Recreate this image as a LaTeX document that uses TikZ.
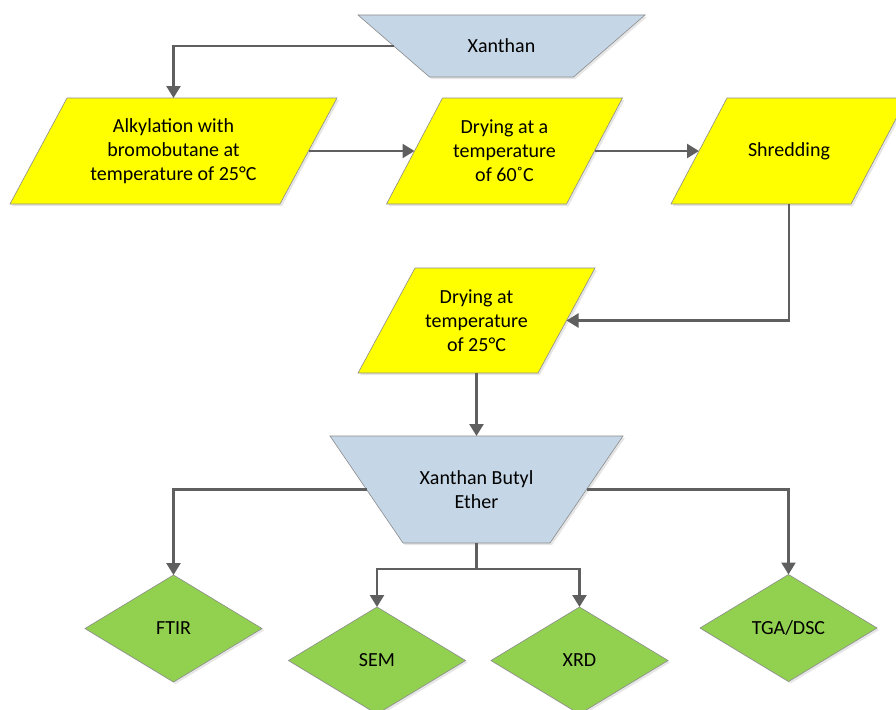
\documentclass[tikz,border=0pt]{standalone}
\usepackage{fontspec}
\setmainfont{Carlito}
\usetikzlibrary{shapes.geometric,arrows.meta,shadows,backgrounds}

\definecolor{boxyellow}{HTML}{FFFF00}
\definecolor{boxblue}{HTML}{C5D6E6}
\definecolor{boxgreen}{HTML}{92D050}
\definecolor{edgegray}{HTML}{8C8C8C}
\definecolor{linegray}{HTML}{5F5F5F}

\begin{document}
\begin{tikzpicture}[x=1pt, y=-1pt,
  font=\fontsize{20}{24}\selectfont,
  label box/.style={rectangle, align=center, inner sep=0pt, outer sep=0pt},
  shape line/.style={draw=edgegray, line width=0.6pt,
    drop shadow={shadow xshift=2pt, shadow yshift=-2pt, opacity=0.2}},
  testbox/.style={shape line, diamond, aspect=1.65, fill=boxgreen, align=center,
    inner sep=0pt, outer sep=0pt, minimum width=177, minimum height=107},
  conn/.style={draw=linegray, line width=2.4pt, ->, >={Triangle[length=12pt, width=14pt]}},
  plain/.style={draw=linegray, line width=2.4pt}
]

\useasboundingbox (0,0) rectangle (896,709);

% Text of the raw material and the product (width taken at half height)
\node[label box, minimum width=215.5, minimum height=62] (xan) at (501.5,46) {Xanthan};
\node[label box, minimum width=220, minimum height=107] (xbe) at (476.5,489.5) {Xanthan Butyl\\Ether};

% Text of the process steps
\node[label box, minimum width=270, minimum height=106] (alk) at (173.5,151) {Alkylation with\\bromobutane at\\temperature of 25°C};
\node[label box, minimum width=180, minimum height=106] (dry60) at (504.5,151) {Drying at a\\temperature\\of 60˚C};
\node[label box, minimum width=180, minimum height=106] (shred) at (789,151) {Shredding};
\node[label box, minimum width=180, minimum height=105] (dry25) at (476.5,320.5) {Drying at\\temperature\\of 25°C};

% Draw the analyses
\node[testbox] (ftir) at (173.5,628.5) {FTIR};
\node[testbox] (sem) at (377,660.5) {SEM};
\node[testbox] (xrd) at (579.5,660.5) {XRD};
\node[testbox] (tga) at (788.5,628) {TGA/DSC};

% Draw the shapes behind the text
\begin{scope}[on background layer]
\foreach \n/\s in {xan/71.5, xbe/73}
  \filldraw[shape line, fill=boxblue]
    ([xshift=-\s/2*1pt]\n.north west) -- ([xshift=\s/2*1pt]\n.north east)
    -- ([xshift=-\s/2*1pt]\n.south east) -- ([xshift=\s/2*1pt]\n.south west) -- cycle;
\foreach \n/\s in {alk/57, dry60/56, shred/56, dry25/57}
  \filldraw[shape line, fill=boxyellow]
    ([xshift=\s/2*1pt]\n.north west) -- ([xshift=\s/2*1pt]\n.north east)
    -- ([xshift=-\s/2*1pt]\n.south east) -- ([xshift=-\s/2*1pt]\n.south west) -- cycle;
\end{scope}

% Draw the connectors
\draw[conn] (xan.west) -| (alk.north);
\draw[conn] (alk.east) -- (dry60.west);
\draw[conn] (dry60.east) -- (shred.west);
\draw[conn] (shred.south) |- (dry25.east);
\draw[conn] (dry25.south) -- (xbe.north);
\draw[conn] (xbe.west) -| (ftir.north);
\draw[conn] (xbe.east) -| (tga.north);

\coordinate (split) at ([yshift=-26pt]xbe.south);
\draw[plain] (xbe.south) -- (split);
\draw[conn] (split) -| (sem.north);
\draw[conn] (split) -| (xrd.north);

\end{tikzpicture}
\end{document}
